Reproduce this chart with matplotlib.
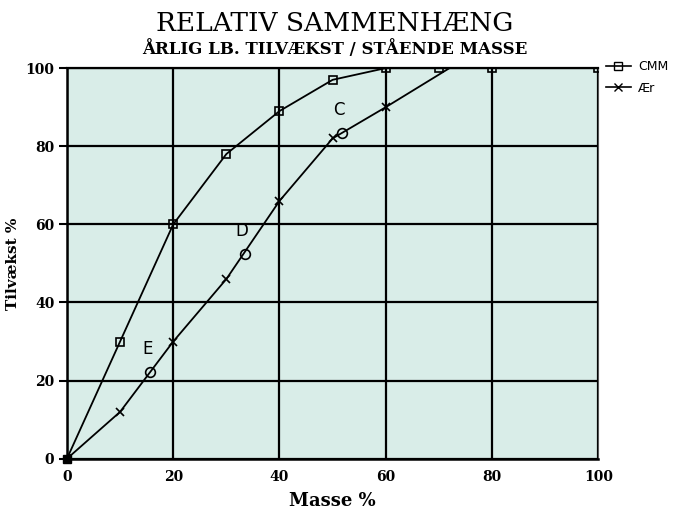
import matplotlib
matplotlib.use("Agg")
import matplotlib.pyplot as plt
from matplotlib.lines import Line2D

# CMM curve (square markers)
cmm_x = [0, 10, 20, 30, 40, 50, 60, 70, 80, 100]
cmm_y = [0, 30, 60, 78, 89, 97, 100, 100, 100, 100]

# Ær curve (x markers), last point is the line end without marker
aer_x = [0, 10, 20, 30, 40, 50, 60, 72]
aer_y = [0, 12, 30, 46, 66, 82, 90, 100]

# labelled circle points
pt_labels = ["E", "D", "C"]
pt_x = [15.7, 33.5, 51.8]
pt_y = [22.2, 52.5, 83.5]

x_ticks = [0, 20, 40, 60, 80, 100]
y_ticks = [0, 20, 40, 60, 80, 100]

SERIF = ["DejaVu Serif"]

fig = plt.figure(figsize=(6.83, 5.12), dpi=100)
ax = fig.add_axes([0.098, 0.104, 0.778, 0.763])
ax.set_facecolor("#d9ede8")

ax.plot(cmm_x, cmm_y, color="black", lw=1.3, marker="s", ms=6,
        mfc="none", mec="black", mew=1.2, zorder=3)
ax.plot(aer_x, aer_y, color="black", lw=1.3, marker="x", ms=6, mew=1.2,
        markevery=list(range(len(aer_x) - 1)), zorder=3)
ax.plot(pt_x, pt_y, ls="none", marker="o", ms=7, mfc="none",
        mec="black", mew=1.2, zorder=4)
for lab, x, y in zip(pt_labels, pt_x, pt_y):
    ax.text(x - 0.6, y + 3.5, lab, fontsize=12, ha="center", va="bottom",
            family=["DejaVu Sans"])
ax.plot([0], [0], marker="s", color="black", ms=6, zorder=5, clip_on=False)

ax.set_xlim(0, 100)
ax.set_ylim(0, 100)
ax.set_xticks(x_ticks)
ax.set_yticks(y_ticks)
ax.grid(True, color="black", lw=1.6)
ax.tick_params(axis="x", length=0, pad=8)
ax.tick_params(axis="y", length=6, width=1.5, pad=3)
for lab in ax.get_xticklabels() + ax.get_yticklabels():
    lab.set_fontfamily(SERIF)
    lab.set_fontweight("bold")
    lab.set_fontsize(10)
for side in ["left", "bottom"]:
    ax.spines[side].set_linewidth(1.8)
ax.spines["top"].set_linewidth(1.6)
ax.spines["right"].set_linewidth(0.8)
ax.spines["right"].set_color("#555555")

ax.set_xlabel("Masse %", family=SERIF, fontweight="bold", fontsize=13,
              labelpad=6)
ax.set_ylabel("Tilvækst %", family=SERIF, fontweight="bold", fontsize=11,
              labelpad=4)

fig.text(0.49, 0.955, "RELATIV SAMMENHÆNG", family=SERIF, fontsize=19,
         ha="center", va="center")
fig.text(0.49, 0.905, "ÅRLIG LB. TILVÆKST / STÅENDE MASSE", family=SERIF,
         fontweight="bold", fontsize=12, ha="center", va="center")

handles = [
    Line2D([], [], color="black", lw=1.2, marker="s", ms=6, mfc="none"),
    Line2D([], [], color="black", lw=1.2, marker="x", ms=6),
]
fig.legend(handles, ["CMM", "Ær"], loc="upper left",
           bbox_to_anchor=(0.874, 0.9), frameon=False, fontsize=9,
           handlelength=2.0, labelspacing=0.7, handletextpad=0.6,
           borderpad=0.2)

fig.savefig("out.png", dpi=100)
